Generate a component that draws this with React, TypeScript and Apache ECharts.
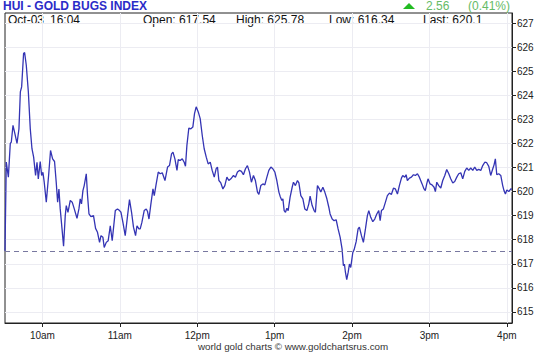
import React, { useEffect, useRef } from "react";
import * as echarts from "echarts";

const chartTitle = "HUI - GOLD BUGS INDEX";
const dateLabel = "Oct-03";
const timeLabel = "16:04";
const openValue = 617.54;
const highValue = 625.78;
const lowValue = 616.34;
const lastValue = 620.1;
const changeText = "2.56";
const changePctText = "(0.41%)";
const footer = "world gold charts \u00a9 www.goldchartsrus.com";

const yTicks = [615, 616, 617, 618, 619, 620, 621, 622, 623, 624, 625, 626, 627];
const hourTicks = [600, 660, 720, 780, 840, 900, 960];
const hourLabels = ["10am", "11am", "12pm", "1pm", "2pm", "3pm", "4pm"];

// minutes since midnight
const minutes = [
  571.0, 572.0, 573.6, 575.1, 575.9, 577.2, 578.7, 580.3, 581.8, 582.9, 583.9, 585.4, 586.2, 587.5, 589.1,
  590.6, 591.9, 593.2, 594.7, 595.8, 596.8, 598.3, 599.4, 600.4, 601.4, 603.0, 604.8, 606.3, 607.9, 609.4,
  610.7, 611.8, 612.8, 613.8, 615.2, 616.4, 617.7, 618.5, 619.8, 621.6, 623.1, 624.7, 626.8, 628.3, 629.3,
  630.3, 631.4, 632.4, 634.0, 635.0, 636.1, 637.6, 639.6, 641.2, 642.7, 644.3, 645.4, 646.9, 647.9, 649.5,
  651.0, 652.6, 654.1, 656.5, 658.2, 659.8, 660.9, 662.4, 664.2, 666.0, 667.5, 669.1, 670.6, 672.2, 673.3,
  674.8, 675.8, 677.1, 678.9, 680.5, 681.5, 682.6, 684.1, 685.7, 686.7, 688.2, 689.8, 691.3, 692.9, 695.0,
  697.0, 698.5, 700.1, 701.2, 702.7, 704.3, 705.3, 706.8, 708.4, 709.9, 710.9, 712.0, 713.5, 715.1, 716.6,
  717.9, 719.2, 720.8, 722.3, 723.9, 725.4, 727.0, 728.5, 730.1, 731.6, 733.2, 734.7, 735.7, 736.8, 738.3,
  739.9, 741.4, 743.0, 744.5, 746.1, 748.1, 749.6, 751.2, 752.7, 754.3, 755.8, 757.4, 758.9, 760.5, 762.0,
  763.6, 765.1, 766.7, 767.8, 769.3, 770.9, 772.4, 774.0, 775.5, 777.1, 778.6, 780.2, 781.7, 783.3, 784.3,
  785.6, 786.4, 787.4, 788.4, 789.5, 790.5, 792.0, 793.6, 794.6, 796.1, 797.7, 798.8, 800.3, 801.9, 803.4,
  805.0, 806.5, 807.5, 809.1, 810.6, 811.6, 813.2, 814.7, 815.8, 817.4, 818.9, 820.5, 822.0, 823.0, 824.6,
  826.1, 827.7, 829.2, 830.8, 832.3, 833.3, 834.1, 834.9, 835.9, 837.0, 838.0, 839.0, 840.6, 841.6, 843.2,
  844.7, 845.7, 847.3, 848.8, 850.4, 851.9, 853.0, 854.5, 856.1, 857.6, 859.2, 860.7, 861.8, 862.8, 864.3,
  865.9, 867.4, 869.0, 870.5, 872.1, 873.6, 875.2, 876.7, 878.3, 879.3, 880.9, 881.9, 882.9, 884.5, 886.0,
  887.6, 889.1, 890.7, 892.2, 894.3, 895.8, 896.8, 897.9, 898.9, 900.5, 902.0, 903.6, 904.6, 905.7, 907.2,
  908.8, 910.3, 911.9, 913.4, 915.0, 916.5, 918.1, 919.6, 921.2, 922.7, 924.3, 925.8, 927.4, 928.9, 930.5,
  932.0, 933.6, 935.1, 936.7, 938.2, 939.8, 941.3, 942.9, 944.4, 946.0, 947.5, 949.1, 950.1, 951.1, 952.2,
  953.7, 955.3, 956.8, 957.8, 958.9, 960.0, 961.5, 963.1, 964.0,
];

const values = [
  617.54, 621.23, 620.6, 622.0, 622.06, 622.75, 622.4, 622.0, 622.6, 624.14, 624.35, 625.74, 625.78, 625.25, 624.14,
  622.6, 621.78, 621.43, 620.67, 621.22, 620.53, 621.25, 620.67, 620.8, 620.39, 619.56, 620.67, 621.71, 621.36, 621.25,
  620.39, 619.56, 620.11, 619.28, 618.45, 617.73, 619.0, 619.42, 619.14, 619.63, 619.56, 619.28, 618.89, 619.28, 619.7,
  619.49, 620.04, 620.25, 620.74, 619.83, 619.07, 618.96, 619.0, 618.47, 618.31, 617.89, 618.17, 618.1, 617.68, 617.89,
  617.96, 618.58, 617.96, 619.21, 619.28, 619.21, 619.14, 618.72, 618.17, 619.0, 619.67, 619.14, 618.52, 618.17, 618.58,
  618.45, 618.45, 618.72, 619.21, 619.28, 619.17, 618.86, 619.49, 620.11, 619.83, 620.32, 620.81, 620.74, 620.78, 620.46,
  621.02, 621.08, 621.57, 621.64, 621.36, 620.88, 621.33, 621.29, 621.36, 621.22, 621.05, 621.92, 622.64, 622.61, 622.68,
  623.24, 623.52, 623.31, 623.03, 622.33, 621.78, 621.43, 621.15, 621.22, 620.88, 620.6, 620.95, 621.02, 620.46, 620.36,
  620.11, 620.25, 620.6, 620.46, 620.53, 620.67, 620.6, 620.81, 620.88, 620.84, 620.7, 620.95, 621.08, 620.81, 620.39,
  620.67, 620.46, 619.98, 619.88, 620.25, 620.32, 620.28, 620.6, 620.88, 621.02, 620.95, 620.81, 620.46, 619.98, 619.8,
  619.63, 619.7, 619.21, 619.14, 619.31, 619.21, 619.77, 620.18, 620.39, 620.25, 620.46, 620.36, 619.83, 619.7, 619.28,
  619.21, 619.49, 619.81, 619.42, 619.21, 619.14, 620.25, 620.11, 619.98, 620.18, 619.98, 619.7, 619.35, 619.07, 618.86,
  618.79, 618.83, 618.45, 618.1, 617.61, 616.92, 616.99, 616.64, 616.34, 616.64, 616.99, 616.85, 617.47, 617.58, 617.92,
  618.45, 618.52, 618.17, 617.89, 618.45, 619.0, 619.21, 618.93, 618.75, 618.86, 619.07, 619.21, 618.79, 619.21, 619.28,
  619.56, 619.83, 619.94, 619.88, 620.14, 620.11, 619.9, 620.25, 620.56, 620.67, 620.6, 620.7, 620.46, 620.56, 620.6,
  620.7, 620.67, 620.74, 620.6, 620.32, 620.11, 620.04, 620.32, 620.53, 620.32, 620.28, 620.18, 620.0, 620.39, 620.25,
  620.15, 620.46, 620.67, 620.92, 620.74, 620.53, 620.36, 620.42, 620.6, 620.74, 620.78, 620.53, 620.84, 620.98, 620.88,
  620.98, 620.88, 621.02, 620.88, 620.92, 620.88, 621.08, 621.22, 621.2, 621.05, 620.67, 620.95, 621.11, 621.36, 620.7,
  620.74, 620.67, 620.25, 620.04, 619.9, 620.07, 620.0, 620.11, 620.1,
];

export default function App() {
  const ref = useRef<HTMLDivElement>(null);

  useEffect(() => {
    if (!ref.current) return;
    const chart = echarts.init(ref.current, null, { renderer: "svg" });
    const seriesData = minutes.map((m, i) => [m, values[i]]);
    const font = "Liberation Sans, Arial, sans-serif";
    const infoStyle = { fontFamily: font, fontSize: 12, fill: "#111111" };
    chart.setOption({
      animation: false,
      backgroundColor: "#ffffff",
      grid: {
        left: 5,
        right: 48,
        top: 13,
        bottom: 29,
        show: true,
        borderColor: "#222222",
        borderWidth: 1,
        containLabel: false,
        outerBoundsMode: "none",
      },
      xAxis: {
        type: "value",
        min: 571,
        max: 964,
        axisLine: { show: true, onZero: false, lineStyle: { color: "#222222", width: 1 } },
        axisTick: { show: true, length: 4, customValues: hourTicks, lineStyle: { color: "#222222" } },
        axisLabel: {
          customValues: hourTicks,
          formatter: (v: number) => hourLabels[hourTicks.indexOf(Math.round(v))] ?? "",
          fontFamily: font,
          fontSize: 10,
          color: "#222222",
          margin: 7,
        },
        splitLine: { show: true, lineStyle: { color: "#ececf2", width: 1 } },
      },
      yAxis: {
        type: "value",
        position: "right",
        min: 614.54,
        max: 627.42,
        axisLine: { show: true, lineStyle: { color: "#222222", width: 1 } },
        axisTick: { show: true, length: 4, customValues: yTicks, lineStyle: { color: "#222222" } },
        axisLabel: {
          customValues: yTicks,
          formatter: (v: number) => String(Math.round(v)),
          fontFamily: font,
          fontSize: 10,
          color: "#222222",
          margin: 5,
        },
        splitLine: { show: true, lineStyle: { color: "#ececf2", width: 1 } },
      },
      series: [
        {
          type: "line",
          data: seriesData,
          showSymbol: false,
          symbol: "none",
          lineStyle: { color: "#3434b4", width: 1.3 },
          markLine: {
            silent: true,
            symbol: "none",
            label: { show: false },
            lineStyle: { color: "#7878a0", width: 1, type: [5, 4] },
            data: [{ yAxis: openValue }],
          },
        },
      ],
      graphic: [
        {
          type: "text",
          left: 3,
          top: 0,
          style: { text: chartTitle, fontFamily: font, fontSize: 12, fontWeight: "bold", fill: "#2b2bc8" },
        },
        { type: "text", left: 8, top: 14, style: { ...infoStyle, text: dateLabel } },
        { type: "text", left: 50, top: 14, style: { ...infoStyle, text: timeLabel } },
        { type: "text", left: 143, top: 14, style: { ...infoStyle, text: "Open: " + openValue.toFixed(2) } },
        { type: "text", left: 236, top: 14, style: { ...infoStyle, text: "High: " + highValue.toFixed(2) } },
        { type: "text", left: 329, top: 14, style: { ...infoStyle, text: "Low: " + lowValue.toFixed(2) } },
        { type: "text", left: 423, top: 14, style: { ...infoStyle, text: "Last: " + String(lastValue) } },
        {
          type: "polygon",
          shape: { points: [[403, 9], [415, 9], [409, 3]] },
          style: { fill: "#22bb22" },
        },
        {
          type: "text",
          left: 426,
          top: 0,
          style: { text: changeText, fontFamily: font, fontSize: 12, fill: "#66bb66" },
        },
        {
          type: "text",
          left: 468,
          top: 0,
          style: { text: changePctText, fontFamily: font, fontSize: 12, fill: "#66bb66" },
        },
        {
          type: "text",
          left: 198,
          top: 341,
          style: { text: footer, fontFamily: font, fontSize: 9.8, fill: "#333333" },
        },
      ],
    });
    return () => chart.dispose();
  }, []);

  return (
    <div
      ref={ref}
      style={{ position: "absolute", left: 0, top: 0, width: 560, height: 352, background: "#ffffff" }}
    />
  );
}
